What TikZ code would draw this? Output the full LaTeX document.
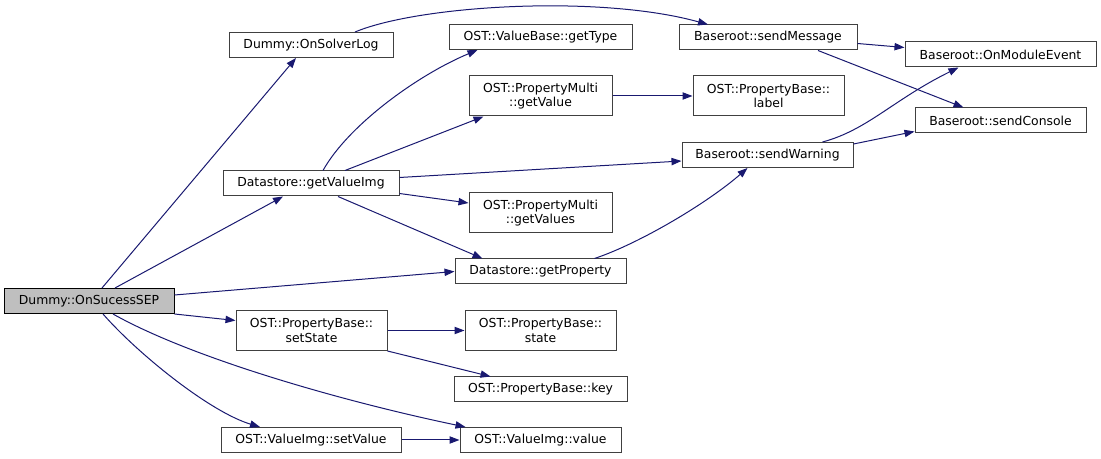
\documentclass[tikz,border=0pt]{standalone}
\usepackage{fontspec}
\setmainfont{DejaVu Sans}
\usetikzlibrary{arrows.meta,calc}
\definecolor{edgeblue}{HTML}{191970}
\definecolor{rootgray}{HTML}{BFBFBF}
\definecolor{boxline}{HTML}{404040}

\begin{document}
\begin{tikzpicture}[
    x=0.75pt, y=-0.75pt,
    every node/.style={font=\fontsize{9.3}{11}\selectfont},
    fn/.style={draw=boxline, line width=0.75pt, rectangle, fill=white,
               inner sep=2pt, minimum height=18.75pt, align=center},
    fnroot/.style={fn, draw=black, fill=rootgray},
    call/.style={-{Triangle[length=7.5pt,width=5.5pt]}, line width=0.75pt, draw=edgeblue}
]
\useasboundingbox (0,0) rectangle (1101,459);

% --- Root and first level ---
\node[fnroot, minimum width=127.5pt] (root) at (89,301) {Dummy::OnSucessSEP};
\node[fn, minimum width=123pt]    (slog)   at (311,45)    {Dummy::OnSolverLog};
\node[fn, minimum width=132pt]    (gvi)    at (311,183.5) {Datastore::getValueImg};
\node[fn, minimum width=113.25pt, minimum height=30pt] (sstate) at (311.5,330.5) {OST::PropertyBase::\\setState};
\node[fn, minimum width=135pt]    (svalue) at (311,440)   {OST::ValueImg::setValue};

% --- Second level ---
\node[fn, minimum width=137.25pt] (gtype)   at (540.5,37)    {OST::ValueBase::getType};
\node[fn, minimum width=107.25pt, minimum height=30pt] (pmget)  at (540.5,96)  {OST::PropertyMulti\\::getValue};
\node[fn, minimum width=107.25pt, minimum height=30pt] (pmgets) at (540.5,213) {OST::PropertyMulti\\::getValues};
\node[fn, minimum width=128.25pt] (gprop)   at (540.5,271.5) {Datastore::getProperty};
\node[fn, minimum width=113.25pt, minimum height=30pt] (pbstate) at (540.5,330.5) {OST::PropertyBase::\\state};
\node[fn, minimum width=129.75pt] (pbkey)   at (540.5,389.5) {OST::PropertyBase::key};
\node[fn, minimum width=120.75pt] (vvalue)  at (540.5,440)   {OST::ValueImg::value};

% --- Third and fourth level ---
\node[fn, minimum width=133.5pt]  (smsg)    at (768,37.5)  {Baseroot::sendMessage};
\node[fn, minimum width=113.25pt, minimum height=30pt] (pblabel) at (768.5,96) {OST::PropertyBase::\\label};
\node[fn, minimum width=128.25pt] (swarn)   at (767.5,155) {Baseroot::sendWarning};
\node[fn, minimum width=143.25pt] (modev)   at (1000.5,54.5)  {Baseroot::OnModuleEvent};
\node[fn, minimum width=128.25pt] (scons)   at (1000.5,120.5) {Baseroot::sendConsole};

% --- Calls from the root ---
\draw[call] ($(root.north)+(13,0)$) -- ($(slog.south)+(-15,0)$);
\draw[call] ($(root.north)+(26,0)$) -- ($(gvi.south)+(-28,0)$);
\draw[call] ($(root.east)+(0,-6)$) -- (gprop.west);
\draw[call] (root.south east) -- ($(sstate.west)+(0,-10)$);
\draw[call] ($(root.south)+(24,0)$) .. controls +(80,45) and +(-120,-25) .. ($(vvalue.north)+(-75,0)$);
\draw[call] ($(root.south)+(14,0)$) .. controls +(35,40) and +(-50,-15) .. ($(svalue.north)+(-51,0)$);

% --- Calls from the first level ---
\draw[call] ($(slog.north)+(44,0)$) .. controls +(65,-27) and +(-108,-30) .. ($(smsg.north)+(-60,0)$);
\draw[call] ($(gvi.north)+(12,0)$) .. controls +(25,-45) and +(-60,25) .. ($(gtype.south)+(-63,0)$);
\draw[call] ($(gvi.north)+(34,0)$) -- ($(pmget.south)+(-57,0)$);
\draw[call] ($(gvi.east)+(0,-6)$) -- ($(swarn.west)+(0,6)$);
\draw[call] ($(gvi.east)+(0,10)$) -- ($(pmgets.west)+(0,-10)$);
\draw[call] ($(gvi.south)+(27,0)$) -- ($(gprop.north)+(-58,0)$);
\draw[call] (sstate.east) -- (pbstate.west);
\draw[call] (sstate.south east) -- ($(pbkey.north)+(-50,0)$);
\draw[call] (svalue.east) -- (vvalue.west);

% --- Calls further right ---
\draw[call] (pmget.east) -- (pblabel.west);
\draw[call] ($(gprop.north)+(54,0)$) .. controls +(45,-15) and +(-40,35) .. ($(swarn.south)+(-20,0)$);
\draw[call] ($(smsg.east)+(0,6)$) -- ($(modev.west)+(0,-7)$);
\draw[call] ($(smsg.south)+(50,0)$) -- ($(scons.north)+(-37,0)$);
\draw[call] ($(swarn.north)+(55,0)$) .. controls +(45,-12) and +(-65,32) .. ($(modev.south)+(-42,0)$);
\draw[call] ($(swarn.east)+(0,-11)$) -- ($(scons.west)+(0,11)$);

\end{tikzpicture}
\end{document}
